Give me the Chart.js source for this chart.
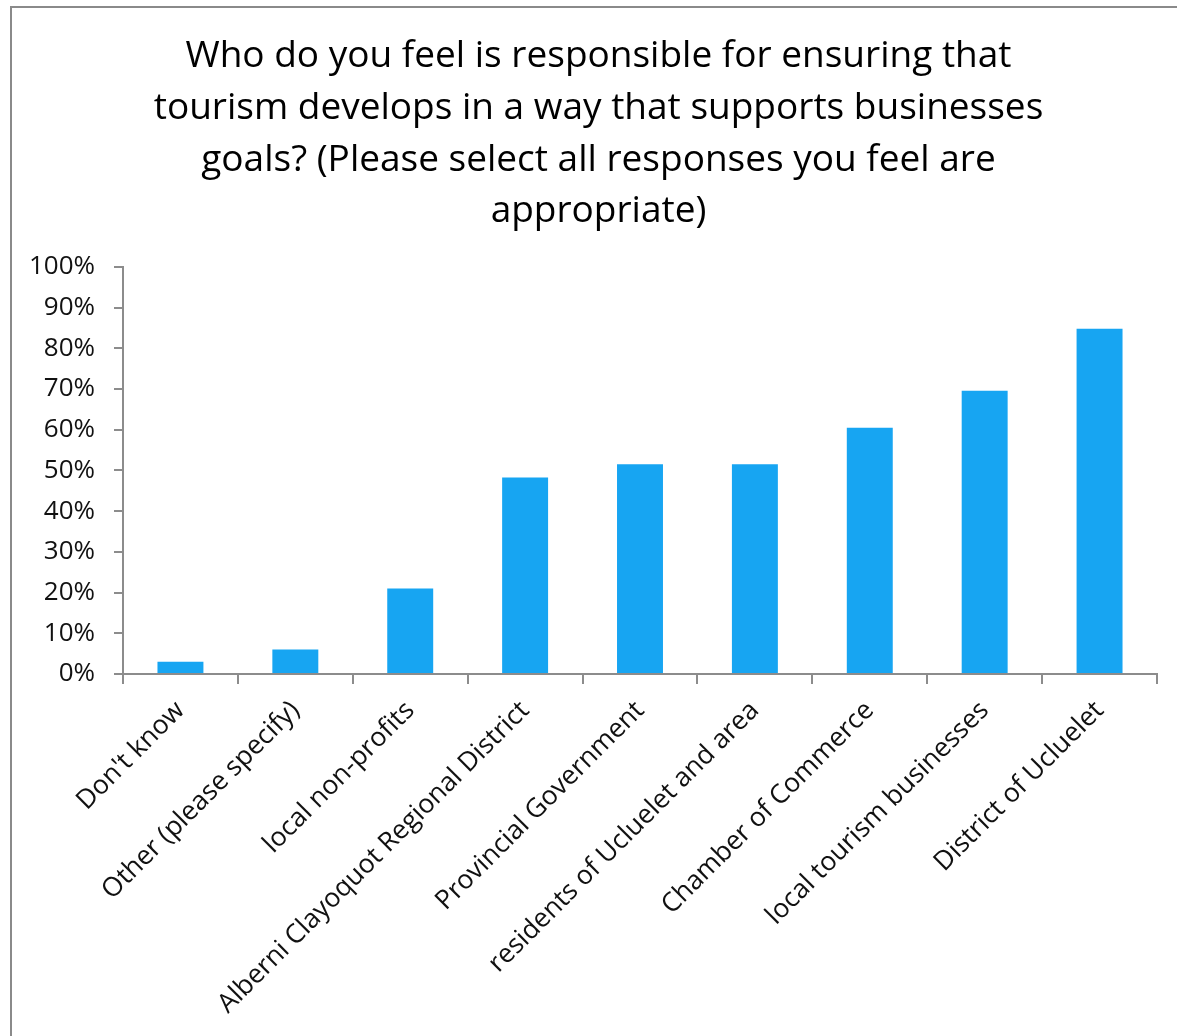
<!DOCTYPE html>
<html>
<head>
<meta charset="utf-8">
<script src="https://cdn.jsdelivr.net/npm/chart.js@4.4.1/dist/chart.umd.min.js"></script>
<style>
  html, body { margin: 0; padding: 0; background: #fff; overflow: hidden; }
  #wrap { position: relative; width: 1177px; height: 1036px; }
  #frame { position: absolute; left: 10px; top: 6px; width: 1200px; height: 1100px; border: 2px solid #8a8a8a; pointer-events: none; }
  canvas { position: absolute; left: 0; top: 0; }
</style>
</head>
<body>
<div id="wrap">
  <canvas id="chart" width="1177" height="1036"></canvas>
  <div id="frame"></div>
</div>
<script>
// survey answers, share of respondents (%)
const categories = [
  "Don't know",
  'Other (please specify)',
  'local non-profits',
  'Alberni Clayoquot Regional District',
  'Provincial Government',
  'residents of Ucluelet and area',
  'Chamber of Commerce',
  'local tourism businesses',
  'District of Ucluelet'
];
const responses = [3, 6, 21, 48.3, 51.5, 51.5, 60.5, 69.6, 84.8];
const titleLines = [
  'Who do you feel is responsible for ensuring that',
  'tourism develops in a way that supports businesses',
  'goals? (Please select all responses you feel are',
  'appropriate)'
];

const axisGray = '#8c8c8c';
const font = 'Open Sans';

new Chart(document.getElementById('chart'), {
  type: 'bar',
  data: {
    labels: categories,
    datasets: [{
      data: responses,
      backgroundColor: '#17a5f2',
      barPercentage: 0.4,
      categoryPercentage: 1
    }]
  },
  options: {
    responsive: false,
    animation: false,
    layout: { padding: { left: 20, right: 0, top: 0, bottom: 0 } },
    plugins: {
      legend: { display: false },
      tooltip: { enabled: false },
      title: {
        display: true,
        text: titleLines,
        color: '#000',
        font: { family: font, size: 37, weight: 'normal', lineHeight: 1.405 },
        padding: { top: 30, bottom: 29 }
      }
    },
    scales: {
      x: {
        afterFit: (scale) => { scale.height = 362; },
        grid: { drawOnChartArea: false, color: axisGray, lineWidth: 2, tickLength: 10 },
        border: { color: axisGray, width: 2 },
        ticks: {
          color: '#111',
          font: { family: font, size: 26.5 },
          minRotation: 45,
          maxRotation: 45,
          padding: 11
        }
      },
      y: {
        min: 0,
        max: 100,
        afterFit: (scale) => { scale.width = 103; },
        grid: { drawOnChartArea: false, color: axisGray, lineWidth: 2, tickLength: 9 },
        border: { color: axisGray, width: 2 },
        ticks: {
          stepSize: 10,
          color: '#111',
          padding: 19,
          font: { family: font, size: 26 },
          callback: (v) => v + '%'
        }
      },
      // empty spacer on the right so the plot ends at the same place as the reference
      spacer: {
        type: 'linear',
        position: 'right',
        afterFit: (scale) => { scale.width = 20; },
        grid: { display: false },
        border: { display: false },
        ticks: { display: false }
      }
    }
  }
});
</script>
</body>
</html>
